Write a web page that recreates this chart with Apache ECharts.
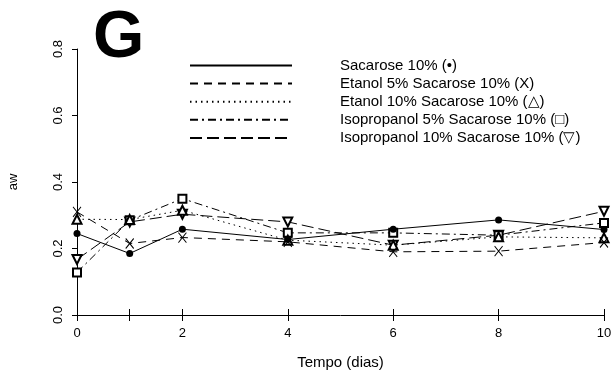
<!DOCTYPE html>
<html><head><meta charset="utf-8">
<script src="https://cdn.jsdelivr.net/npm/echarts@6/dist/echarts.min.js"></script>
<style>html,body{margin:0;padding:0;background:#fff}#c{width:611px;height:379px}</style>
</head><body><div id="c"></div>
<script>
var days = [0, 1, 2, 4, 6, 8, 10];
var xTickValues = [0, 1, 2, 4, 6, 8, 10];
var xLabelValues = [0, 2, 4, 6, 8, 10];
var yTicks = [0.0, 0.2, 0.4, 0.6, 0.8];
var seriesNames = [
  'Sacarose 10% (•)',
  'Etanol 5% Sacarose 10% (X)',
  'Etanol 10% Sacarose 10% (△)',
  'Isopropanol 5% Sacarose 10% (□)',
  'Isopropanol 10% Sacarose 10% (▽)'
];
var sacarose10 = [0.245, 0.185, 0.258, 0.227, 0.258, 0.286, 0.257];
var etanol5 = [0.310, 0.215, 0.233, 0.220, 0.190, 0.192, 0.218];
var etanol10 = [0.288, 0.287, 0.315, 0.225, 0.210, 0.235, 0.232];
var isoprop5 = [0.128, 0.285, 0.350, 0.247, 0.247, 0.240, 0.277];
var isoprop10 = [0.167, 0.280, 0.303, 0.280, 0.210, 0.240, 0.312];

var FONT = '"Liberation Sans", Arial, sans-serif';
function pts(arr) { return days.map(function (d, i) { return [d, arr[i]]; }); }
var xPath = 'path://M0,0L10,12M10,0L0,12';

var styles = [
  {data: sacarose10, dash: 'solid', symbol: 'circle', size: 7, rot: 0, item: {color: '#000'}},
  {data: etanol5, dash: [8, 6], symbol: xPath, size: [8, 10], rot: 0, item: {color: 'rgba(0,0,0,0)', borderColor: '#000', borderWidth: 1}},
  {data: etanol10, dash: [1.5, 4], symbol: 'emptyTriangle', size: 9, rot: 0, item: {color: '#000', borderWidth: 1}},
  {data: isoprop5, dash: [8, 4, 2, 4], symbol: 'emptyRect', size: 8, rot: 0, item: {color: '#000', borderWidth: 1}},
  {data: isoprop10, dash: [12, 5], symbol: 'emptyTriangle', size: 9, rot: 180, item: {color: '#000', borderWidth: 1}}
];

var series = styles.map(function (s, i) {
  return {
    name: seriesNames[i], type: 'line', data: pts(s.data),
    symbol: s.symbol, symbolSize: s.size, symbolRotate: s.rot,
    showAllSymbol: true, animation: false,
    lineStyle: {color: '#000', width: 1, type: s.dash},
    itemStyle: s.item, z: 5 - i
  };
});

var chart = echarts.init(document.getElementById('c'), null, {renderer: 'canvas'});
chart.setOption({
  backgroundColor: '#fff',
  animation: false,
  title: {text: 'G', left: 88, top: 1, textStyle: {fontSize: 66, fontWeight: 'bold', fontFamily: FONT, color: '#000'}},
  legend: {
    orient: 'vertical', left: 184, top: 53, itemWidth: 102, itemHeight: 14, itemGap: 3.1,
    data: seriesNames, itemStyle: {opacity: 0},
    textStyle: {fontSize: 15, fontFamily: FONT, color: '#000', padding: [0, 0, 0, 43]},
    selectedMode: false
  },
  grid: {left: 77, right: 7, top: 49, bottom: 64, outerBoundsMode: 'none', containLabel: false},
  xAxis: [{
    type: 'value', min: 0, max: 10, interval: 1,
    name: 'Tempo (dias)', nameLocation: 'middle', nameGap: 40,
    nameTextStyle: {fontSize: 15, fontFamily: FONT, color: '#000'},
    axisLine: {lineStyle: {color: '#000', width: 1}},
    axisTick: {customValues: xTickValues, length: 6, lineStyle: {color: '#000'}},
    axisLabel: {customValues: xLabelValues, fontSize: 13, fontFamily: FONT, color: '#000', margin: 12},
    splitLine: {show: false}
  }, {
    type: 'value', min: 0, max: 10, interval: 1, position: 'bottom', gridIndex: 0,
    axisLine: {show: false},
    axisTick: {customValues: xTickValues, inside: true, length: 6, lineStyle: {color: '#000'}},
    axisLabel: {show: false}, splitLine: {show: false}
  }],
  yAxis: {
    type: 'value', min: 0, max: 0.8, interval: 0.2,
    name: 'aw', nameLocation: 'middle', nameGap: 57,
    nameTextStyle: {fontSize: 13, fontFamily: FONT, color: '#000'},
    axisLine: {show: true, lineStyle: {color: '#000', width: 1}},
    axisTick: {show: true, length: 5, lineStyle: {color: '#000'}},
    axisLabel: {rotate: 90, fontSize: 13, fontFamily: FONT, color: '#000', margin: 12,
      formatter: function (v) { return v.toFixed(1); }},
    splitLine: {show: false}
  },
  series: series
});
</script></body></html>
